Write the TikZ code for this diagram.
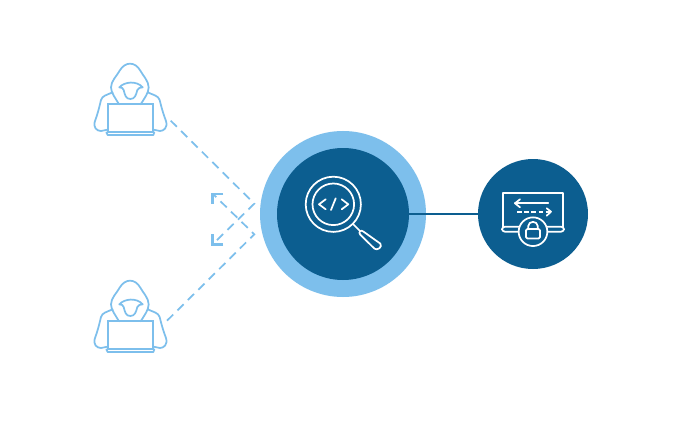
\documentclass[tikz,border=0pt]{standalone}
\definecolor{lightb}{HTML}{7DBFEC}
\definecolor{darkb}{HTML}{0C5E90}
\tikzset{
  hackerline/.style={draw=lightb,line width=1.3pt,line join=round,line cap=round},
  laptopline/.style={draw=lightb,line width=1.5pt,line join=miter},
  whiteline/.style={draw=white,line width=1.3pt,line join=round,line cap=round},
  attack/.style={draw=lightb,line width=1.3pt,dash pattern=on 6.5pt off 4.5pt,line join=miter},
  tip/.style={draw=lightb,line width=1.9pt},
  hacker/.pic={
    \begin{scope}[x=0.25pt,y=-0.25pt]
    % hood
    \draw[hackerline] (102,148) .. controls (92,130) and (78,114) .. (78,97)
      .. controls (78,78) and (96,62) .. (104,47)
      .. controls (112,33) and (124,26) .. (135,26)
      .. controls (147,26) and (158,33) .. (166,47)
      .. controls (174,62) and (191,78) .. (191,97)
      .. controls (191,114) and (178,130) .. (167,148);
    % face
    \draw[hackerline] (103,97) .. controls (118,80) and (155,76) .. (173,97)
      .. controls (165,97) and (160,99) .. (157,105)
      .. controls (153,120) and (150,132) .. (136,132)
      .. controls (122,132) and (120,120) .. (116,105)
      .. controls (114,99) and (110,97) .. (103,97) -- cycle;
    % shoulders and arms
    \draw[hackerline] (83,112) .. controls (65,120) and (52,122) .. (48,135)
      .. controls (42,160) and (37,180) .. (30,198)
      .. controls (23,218) and (36,228) .. (48,228) -- (68,224);
    \draw[hackerline] (188,112) .. controls (205,120) and (220,122) .. (224,135)
      .. controls (230,160) and (236,180) .. (243,198)
      .. controls (249,218) and (236,228) .. (225,228) -- (205,224);
    % laptop
    \draw[laptopline] (68,148) rectangle (205,232);
    \draw[hackerline] (64,232) -- (68,240) -- (205,240) -- (208,232);
    \end{scope}
  }
}
\begin{document}
\begin{tikzpicture}[x=0.75pt,y=-0.75pt]
\useasboundingbox (0,0) rectangle (693,435);
\fill[white] (0,0) rectangle (693,435);

\pic at (85,55) {hacker};
\pic at (85,272) {hacker};

% circles
\node[circle,fill=lightb,minimum size=124.5pt,inner sep=0pt] (outer) at (343,214) {};
\node[circle,fill=darkb,minimum size=99pt,inner sep=0pt] (inner) at (343,214) {};
\node[circle,fill=darkb,minimum size=82.5pt,inner sep=0pt] (vault) at (533,214) {};
\draw[darkb,line width=1.05pt] (inner) -- (vault);

% attack paths
\coordinate (s1) at (170.7,120.7);
\coordinate (a1) at (254.3,203.7);
\coordinate (e1) at (214,243);
\coordinate (s2) at (167,320.7);
\coordinate (a2) at (254.3,234.3);
\coordinate (e2) at (214,195);
\draw[attack] (s1) -- (a1) -- (e1);
\draw[attack] (s2) -- (a2) -- (e2);
\draw[tip] (223,244.3) -- (212.7,244.3) -- (212.7,234);
\draw[tip] (223,194) -- (212.7,194) -- (212.7,204);

% magnifier
\draw[whiteline] (333.3,204.3) circle (20.8);
\draw[whiteline] (333.3,204.3) circle (27.6);
\draw[whiteline] (353.5,224.5) -- (360,231);
\draw[whiteline] (363.3,231.5) .. controls (361,229.3) and (358,232) .. (360.2,234.6)
  -- (374.4,248.6) .. controls (377,251) and (383,247) .. (380.3,243.6) -- cycle;
\draw[whiteline] (325.7,199.3) -- (319,204.3) -- (325.7,209.3);
\draw[whiteline] (341.7,199.3) -- (348.3,204.3) -- (341.7,209.3);
\draw[whiteline] (331,210) -- (335.7,198.3);

% laptop with lock
\draw[whiteline] (502.7,226.7) -- (502.7,192.7) -- (563.3,192.7) -- (563.3,226.7);
\draw[whiteline,rounded corners=2.2pt] (502,226.7) rectangle (564,231.7);
\node[circle,fill=darkb,draw=white,line width=1.3pt,minimum size=21.5pt,inner sep=0pt] (lockring) at (533,231.7) {};
\draw[whiteline,rounded corners=1pt] (526,229) rectangle (540,238.5);
\draw[whiteline] (528.3,229) -- (528.3,226) .. controls (528.3,220.5) and (537.7,220.5) .. (537.7,226) -- (537.7,229);
\draw[whiteline] (515,203.3) -- (548.3,203.3);
\draw[whiteline] (520,199.3) -- (515,203.3) -- (520,207.3);
\draw[whiteline,dash pattern=on 3.5pt off 1.8pt,line cap=butt] (517.3,211.7) -- (551,211.7);
\draw[whiteline] (546.7,208.3) -- (551,211.7) -- (546.7,215.7);
\end{tikzpicture}
\end{document}
